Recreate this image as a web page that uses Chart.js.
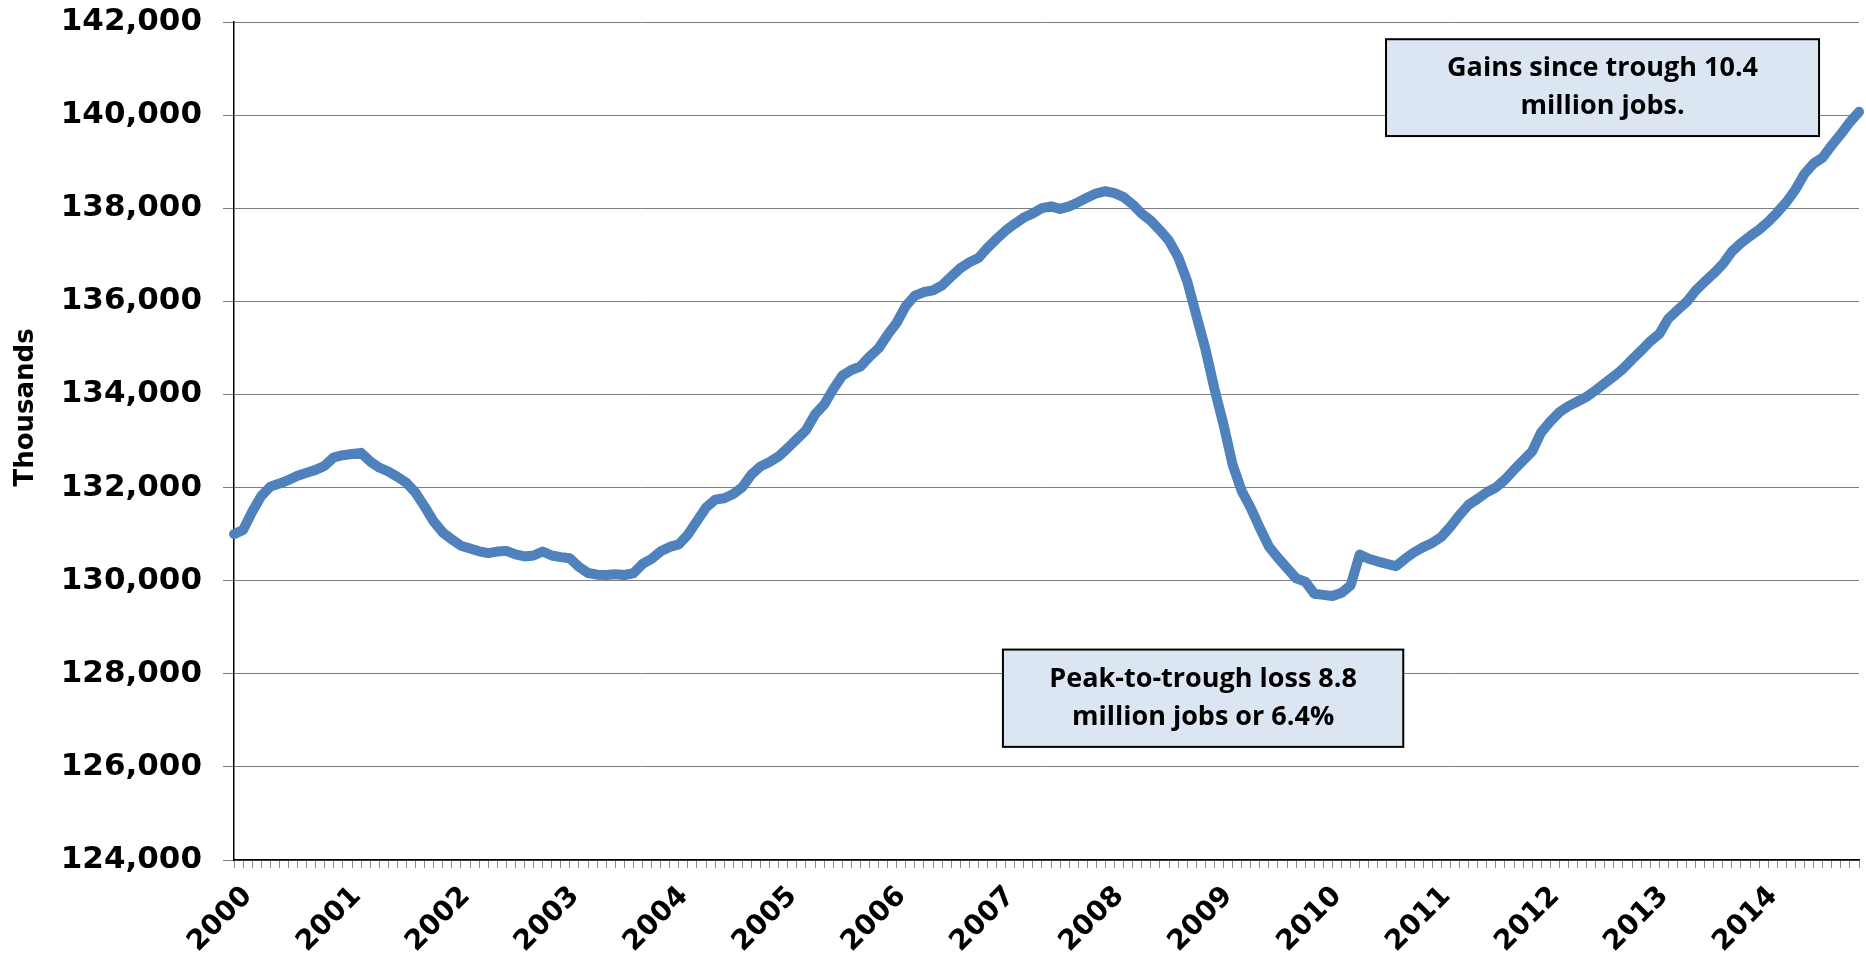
<!DOCTYPE html>
<html>
<head>
<meta charset="utf-8">
<title>Nonfarm payroll employment</title>
<script src="https://cdn.jsdelivr.net/npm/chart.js@4.4.0/dist/chart.umd.min.js"></script>
<style>
  html, body { margin: 0; padding: 0; background: #fff; overflow: hidden; }
  #wrap { width: 1866px; height: 954px; position: relative; }
</style>
</head>
<body>
<div id="wrap"><canvas id="jobs"></canvas></div>
<script>
// monthly employment, thousands (Jan..Dec of each year)
const emp2000 = [131000, 131090, 131480, 131820, 132020, 132085, 132160, 132255, 132320, 132380, 132470, 132650];
const emp2001 = [132695, 132720, 132745, 132560, 132430, 132345, 132230, 132100, 131890, 131590, 131270, 131035];
const emp2002 = [130885, 130750, 130690, 130630, 130590, 130625, 130640, 130565, 130520, 130540, 130626, 130540];
const emp2003 = [130505, 130480, 130295, 130165, 130128, 130122, 130138, 130122, 130160, 130360, 130470, 130630];
const emp2004 = [130725, 130780, 130990, 131280, 131570, 131740, 131770, 131860, 132010, 132280, 132455, 132550];
const emp2005 = [132670, 132850, 133040, 133230, 133570, 133780, 134110, 134400, 134525, 134600, 134810, 134990];
const emp2006 = [135280, 135540, 135900, 136120, 136200, 136235, 136345, 136530, 136710, 136838, 136930, 137150];
const emp2007 = [137340, 137520, 137665, 137800, 137890, 138000, 138040, 137985, 138040, 138130, 138230, 138320];
const emp2008 = [138365, 138325, 138240, 138080, 137880, 137730, 137525, 137300, 136950, 136430, 135700, 134980];
const emp2009 = [134120, 133350, 132490, 131930, 131560, 131130, 130730, 130490, 130270, 130050, 129980, 129720];
const emp2010 = [129695, 129670, 129740, 129900, 130560, 130470, 130410, 130360, 130310, 130470, 130610, 130720];
const emp2011 = [130810, 130940, 131160, 131410, 131630, 131760, 131900, 132000, 132170, 132380, 132580, 132780];
const emp2012 = [133190, 133420, 133620, 133750, 133850, 133950, 134090, 134240, 134390, 134550, 134750, 134940];
const emp2013 = [135140, 135300, 135630, 135810, 135985, 136230, 136420, 136600, 136800, 137070, 137250, 137400];
const emp2014 = [137540, 137710, 137910, 138130, 138400, 138740, 138960, 139090, 139350, 139590, 139850, 140070];

const yearLabels = ['2000', '2001', '2002', '2003', '2004', '2005', '2006', '2007',
                    '2008', '2009', '2010', '2011', '2012', '2013', '2014'];
const yTicks = [124000, 126000, 128000, 130000, 132000, 134000, 136000, 138000, 140000, 142000];

const employment = [].concat(emp2000, emp2001, emp2002, emp2003, emp2004, emp2005, emp2006,
  emp2007, emp2008, emp2009, emp2010, emp2011, emp2012, emp2013, emp2014);

const months = [];
yearLabels.forEach(y => { for (let m = 1; m <= 12; m++) months.push(y + '-' + m); });

// text boxes, placed in axis units (category index / value)
const notes = [
  { lines: ['Gains since trough 10.4', 'million jobs.'], x0: 126.9, x1: 174.6, y0: 141630, y1: 139550 },
  { lines: ['Peak-to-trough loss 8.8', 'million jobs or 6.4%'], x0: 84.7, x1: 128.8, y0: 128520, y1: 126430 }
];

const notesPlugin = {
  id: 'notes',
  afterDraw(chart) {
    const { ctx, chartArea } = chart;
    const xs = chart.scales.x, ys = chart.scales.y;
    ctx.save();
    notes.forEach(n => {
      const l = xs.getPixelForValue(n.x0), r = xs.getPixelForValue(n.x1);
      const t = ys.getPixelForValue(n.y0), b = ys.getPixelForValue(n.y1);
      ctx.fillStyle = '#dce6f2';
      ctx.fillRect(l, t, r - l, b - t);
      ctx.strokeStyle = '#000';
      ctx.lineWidth = 2;
      ctx.strokeRect(l, t, r - l, b - t);
      ctx.fillStyle = '#000';
      ctx.font = 'bold 27px "Open Sans", "Liberation Sans", sans-serif';
      ctx.textAlign = 'center';
      ctx.textBaseline = 'middle';
      const cx = (l + r) / 2, cy = (t + b) / 2, lh = 38;
      n.lines.forEach((s, i) => ctx.fillText(s, cx, cy + (i - (n.lines.length - 1) / 2) * lh));
    });
    // y axis title
    ctx.translate(26, chartArea.top + (chartArea.bottom - chartArea.top) * 0.46);
    ctx.rotate(-Math.PI / 2);
    ctx.font = 'bold 26px "DejaVu Sans", Verdana, sans-serif';
    ctx.textAlign = 'center';
    ctx.textBaseline = 'middle';
    ctx.fillStyle = '#000';
    ctx.fillText('Thousands', 0, 0);
    ctx.restore();
  }
};

new Chart(document.getElementById('jobs'), {
  type: 'line',
  data: {
    labels: months,
    datasets: [{
      data: employment,
      borderColor: '#4f81bd',
      borderWidth: 10,
      borderJoinStyle: 'round',
      borderCapStyle: 'round',
      pointRadius: 0,
      tension: 0,
      fill: false
    }]
  },
  options: {
    responsive: true,
    maintainAspectRatio: false,
    animation: false,
    layout: { padding: { left: 0, right: 7, top: 22, bottom: 0 } },
    plugins: { legend: { display: false }, tooltip: { enabled: false } },
    scales: {
      x: {
        offset: false,
        grid: { drawOnChartArea: false, drawTicks: true, tickLength: 8, color: '#8a8a8a' },
        border: { color: '#000', width: 1.5 },
        ticks: {
          autoSkip: false,
          maxRotation: 45,
          minRotation: 45,
          padding: 12,
          labelOffset: 14,
          color: '#000',
          font: { family: '"DejaVu Sans", Verdana, sans-serif', weight: 'bold', size: 28 },
          callback: (v, i) => i % 12 === 0 ? yearLabels[i / 12] : ''
        },
        afterFit: s => { s.height = 94; s.paddingLeft = 0; s.paddingRight = 0; }
      },
      y: {
        min: yTicks[0],
        max: yTicks[yTicks.length - 1],
        afterBuildTicks: s => { s.ticks = yTicks.map(v => ({ value: v })); },
        grid: { color: '#7f7f7f', tickLength: 11 },
        border: { color: '#000', width: 1.5 },
        ticks: {
          padding: 21,
          color: '#000',
          font: { family: '"DejaVu Sans", Verdana, sans-serif', weight: 'bold', size: 31 },
          callback: v => v.toLocaleString('en-US')
        },
        afterFit: s => { s.width = 234; s.paddingTop = 0; s.paddingBottom = 0; }
      }
    }
  },
  plugins: [notesPlugin]
});
</script>
</body>
</html>
